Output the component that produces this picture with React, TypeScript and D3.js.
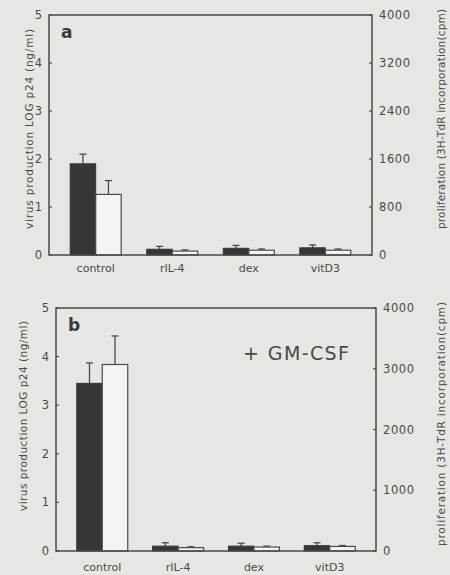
import * as d3 from "d3";

const categories = ["control", "rIL-4", "dex", "vitD3"];

// panel a
const virusA = [1.9, 0.12, 0.14, 0.15];
const virusErrA = [0.2, 0.06, 0.06, 0.06];
const prolifA = [1010, 65, 80, 80];
const prolifErrA = [230, 20, 20, 20];
const rightTicksA = [0, 800, 1600, 2400, 3200, 4000];

// panel b (+ GM-CSF)
const virusB = [3.45, 0.1, 0.1, 0.11];
const virusErrB = [0.42, 0.07, 0.06, 0.06];
const prolifB = [3070, 55, 65, 75];
const prolifErrB = [470, 15, 15, 15];
const rightTicksB = [0, 1000, 2000, 3000, 4000];

const leftTicks = [0, 1, 2, 3, 4, 5];

const FONT = "'DejaVu Sans', Verdana, sans-serif";
const INK = "#4a4a4a";
const BAR = "#363636";

interface Title {
  x: number;
  y: number;
  len: number;
  size: number;
}

interface PanelProps {
  letter: string;
  box: { left: number; right: number; top: number; bottom: number };
  virus: number[];
  virusErr: number[];
  prolif: number[];
  prolifErr: number[];
  rightTicks: number[];
  leftTitle: Title;
  rightTitle: Title;
  catY: number;
  note?: string;
}

function Panel(p: PanelProps) {
  const { left, right, top, bottom } = p.box;

  const x = d3.scalePoint<string>().domain(categories).range([left, right]).padding(0.61);
  const yL = d3.scaleLinear().domain([0, 5]).range([bottom, top]);
  const yR = d3.scaleLinear().domain([0, 4000]).range([bottom, top]);
  const bw = 25.5;
  const cap = 3.5;

  return (
    <g fontFamily={FONT} fill={INK}>
      {/* bars */}
      {categories.map((c, i) => {
        const cx = x(c) as number;
        const vTop = yL(p.virus[i]);
        const vErr = yL(p.virus[i] + p.virusErr[i]);
        const pTop = yR(p.prolif[i]);
        const pErr = yR(p.prolif[i] + p.prolifErr[i]);
        return (
          <g key={c}>
            <line x1={cx - bw / 2} x2={cx - bw / 2} y1={vTop} y2={vErr} stroke={INK} strokeWidth={1.3} />
            <line x1={cx - bw / 2 - cap} x2={cx - bw / 2 + cap} y1={vErr} y2={vErr} stroke={INK} strokeWidth={1.3} />
            <line x1={cx + bw / 2} x2={cx + bw / 2} y1={pTop} y2={pErr} stroke={INK} strokeWidth={1.3} />
            <line x1={cx + bw / 2 - cap} x2={cx + bw / 2 + cap} y1={pErr} y2={pErr} stroke={INK} strokeWidth={1.3} />
            <rect x={cx - bw} y={vTop} width={bw} height={bottom - vTop} fill={BAR} stroke={BAR} strokeWidth={1} />
            <rect x={cx} y={pTop} width={bw} height={bottom - pTop} fill="#f4f4f2" stroke={INK} strokeWidth={1.2} />
          </g>
        );
      })}

      {/* frame */}
      <rect x={left} y={top} width={right - left} height={bottom - top} fill="none" stroke={INK} strokeWidth={1.5} />

      {/* left axis */}
      {leftTicks.map((t) => (
        <g key={"l" + t}>
          <line x1={left} x2={left + 3} y1={yL(t)} y2={yL(t)} stroke={INK} strokeWidth={1.2} />
          <text x={left - 7} y={yL(t)} dy="0.35em" textAnchor="end" fontSize={11.5}>
            {t}
          </text>
        </g>
      ))}

      {/* right axis */}
      {p.rightTicks.map((t) => (
        <g key={"r" + t}>
          <line x1={right - 3} x2={right} y1={yR(t)} y2={yR(t)} stroke={INK} strokeWidth={1.2} />
          <text x={right + 7} y={yR(t)} dy="0.35em" textAnchor="start" fontSize={11.5} letterSpacing={0.6}>
            {t}
          </text>
        </g>
      ))}

      {/* category labels */}
      {categories.map((c) => (
        <text key={"c" + c} x={x(c) as number} y={p.catY} textAnchor="middle" fontSize={11}>
          {c}
        </text>
      ))}

      {/* axis titles */}
      <text
        transform={`translate(${p.leftTitle.x},${p.leftTitle.y}) rotate(-90)`}
        textAnchor="middle"
        fontSize={p.leftTitle.size}
        dy="0.35em"
        textLength={p.leftTitle.len}
        lengthAdjust="spacing"
      >
        virus production LOG p24 (ng/ml)
      </text>
      <text
        transform={`translate(${p.rightTitle.x},${p.rightTitle.y}) rotate(-90)`}
        textAnchor="middle"
        fontSize={p.rightTitle.size}
        dy="0.35em"
        textLength={p.rightTitle.len}
        lengthAdjust="spacing"
      >
        proliferation (3H-TdR incorporation(cpm)
      </text>

      <text x={left + 12} y={top + 23} fontSize={17} fontWeight="bold" fill="#3a3a3a">
        {p.letter}
      </text>

      {p.note && (
        <text x={243} y={top + 52} fontSize={19} letterSpacing={1.4}>
          {p.note}
        </text>
      )}
    </g>
  );
}

export default function App() {
  return (
    <svg
      width={450}
      height={575}
      viewBox="0 0 450 575"
      style={{ position: "absolute", left: 0, top: 0, background: "#e6e6e3" }}
    >
      <rect x={0} y={0} width={450} height={575} fill="#e6e6e3" />
      <Panel
        letter="a"
        box={{ left: 49, right: 372, top: 15, bottom: 255 }}
        virus={virusA}
        virusErr={virusErrA}
        prolif={prolifA}
        prolifErr={prolifErrA}
        rightTicks={rightTicksA}
        leftTitle={{ x: 29, y: 129, len: 200, size: 10.5 }}
        rightTitle={{ x: 441, y: 119, len: 220, size: 10.5 }}
        catY={272}
      />
      <Panel
        letter="b"
        box={{ left: 56, right: 376, top: 308, bottom: 551 }}
        virus={virusB}
        virusErr={virusErrB}
        prolif={prolifB}
        prolifErr={prolifErrB}
        rightTicks={rightTicksB}
        leftTitle={{ x: 23, y: 416, len: 190, size: 10.5 }}
        rightTitle={{ x: 441, y: 424, len: 244, size: 10.5 }}
        catY={571}
        note="+  GM-CSF"
      />
    </svg>
  );
}
